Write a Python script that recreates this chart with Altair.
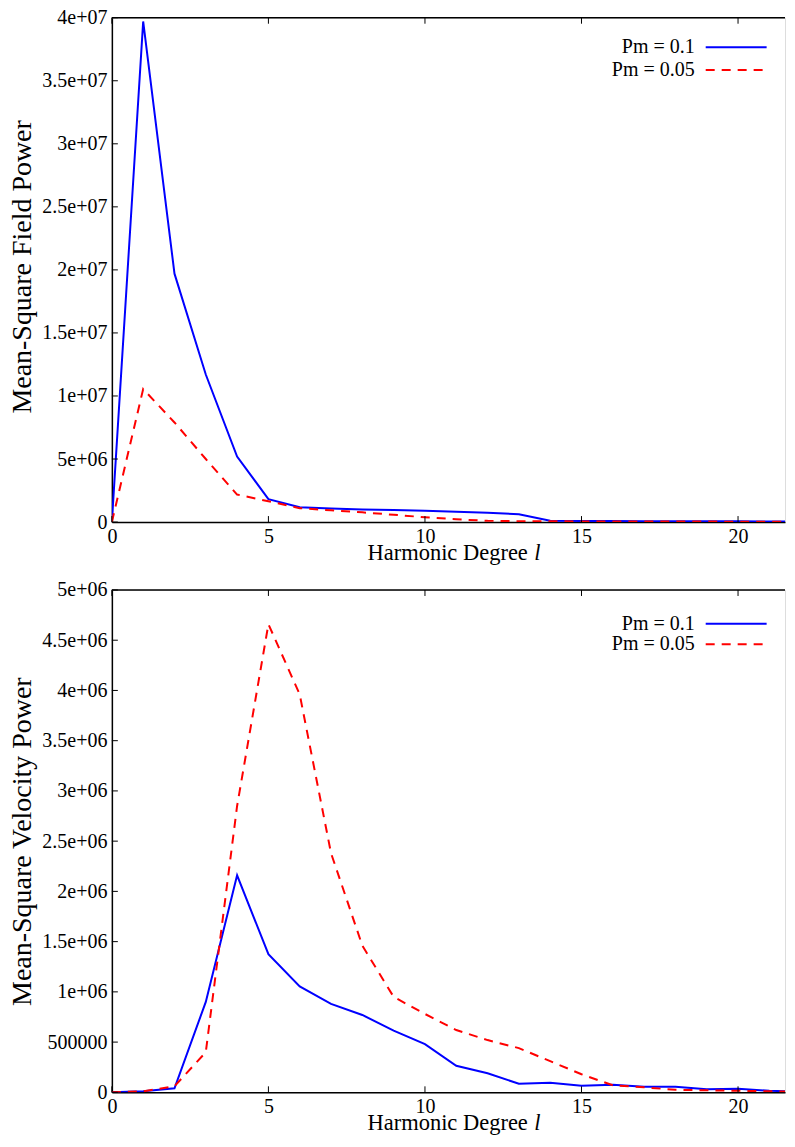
import altair as alt
import pandas as pd

# ---------------- data ----------------
degree = list(range(23))

field_pm_01 = [0, 3.97e7, 1.97e7, 1.17e7, 5.2e6, 1.82e6, 1.18e6, 1.08e6, 1.0e6,
               0.95e6, 0.89e6, 0.82e6, 0.74e6, 0.62e6, 0.11e6, 0.09e6, 0.08e6,
               0.07e6, 0.07e6, 0.06e6, 0.06e6, 0.05e6, 0.04e6]
field_pm_005 = [0, 1.055e7, 7.9e6, 5.0e6, 2.18e6, 1.65e6, 1.1e6, 0.93e6, 0.77e6,
                0.58e6, 0.38e6, 0.22e6, 0.1e6, 0.07e6, 0.06e6, 0.05e6, 0.05e6,
                0.04e6, 0.04e6, 0.04e6, 0.03e6, 0.03e6, 0.03e6]
vel_pm_01 = [0, 0.01e6, 0.04e6, 0.9e6, 2.16e6, 1.375e6, 1.055e6, 0.88e6, 0.77e6,
             0.615e6, 0.48e6, 0.265e6, 0.19e6, 0.085e6, 0.095e6, 0.065e6, 0.075e6,
             0.055e6, 0.055e6, 0.03e6, 0.035e6, 0.015e6, 0.008e6]
vel_pm_005 = [0, 0.01e6, 0.06e6, 0.4e6, 2.85e6, 4.66e6, 3.96e6, 2.38e6, 1.46e6,
              0.95e6, 0.78e6, 0.62e6, 0.52e6, 0.44e6, 0.31e6, 0.18e6, 0.07e6,
              0.05e6, 0.025e6, 0.02e6, 0.015e6, 0.01e6, 0.008e6]

series_labels = ["Pm = 0.1", "Pm = 0.05"]
series_colors = ["#0000ff", "#ff0000"]

x_ticks = [0, 5, 10, 15, 20]

field_ticks = [0, 5e6, 1e7, 1.5e7, 2e7, 2.5e7, 3e7, 3.5e7, 4e7]
field_tick_labels = ["0", "5e+06", "1e+07", "1.5e+07", "2e+07", "2.5e+07",
                     "3e+07", "3.5e+07", "4e+07"]
vel_ticks = [0, 5e5, 1e6, 1.5e6, 2e6, 2.5e6, 3e6, 3.5e6, 4e6, 4.5e6, 5e6]
vel_tick_labels = ["0", "500000", "1e+06", "1.5e+06", "2e+06", "2.5e+06",
                   "3e+06", "3.5e+06", "4e+06", "4.5e+06", "5e+06"]

x_title_main = "Harmonic Degree"
x_title_var = "l"
field_title = "Mean-Square Field Power"
vel_title = "Mean-Square Velocity Power"

# ---------------- layout / style ----------------
FONT = "Liberation Serif"
W = 674
XMAX = 21.5
TICK = 6


def label_expr(vals, labels):
    arr_l = ",".join("'" + s + "'" for s in labels)
    arr_v = ",".join(str(int(v)) for v in vals)
    return f"[{arr_l}][indexof([{arr_v}], datum.value)]"


def panel(s01, s005, ymax, yticks, ylabels, ytitle, H, leg_y, title_shift):
    xscale = alt.Scale(domain=[0, XMAX], nice=False, zero=False)
    yscale = alt.Scale(domain=[0, ymax], nice=False, zero=True)
    xaxis = alt.Axis(values=x_ticks, title=None, grid=False, ticks=False, tickSize=0,
                     labelPadding=20, labelBaseline="alphabetic", labelFont=FONT,
                     labelFontSize=20, labelColor="black", domainColor="black",
                     domainWidth=1.5, labelFlush=False, labelOverlap=False, format="d")
    yaxis = alt.Axis(values=yticks, labelExpr=label_expr(yticks, ylabels), title=ytitle,
                     grid=False, ticks=False, tickSize=0, labelPadding=5,
                     labelFont=FONT, labelFontSize=20, labelColor="black",
                     labelBaseline="middle", labelAlign="right",
                     domainColor="black", domainWidth=1.5, labelFlush=False,
                     labelOverlap=False, titleX=-81, titleY=H / 2 + title_shift,
                     titleAngle=270, titleBaseline="alphabetic", titleAlign="center",
                     titleFont=FONT, titleFontSize=28, titleFontWeight="normal",
                     titleColor="black")
    bx = alt.X("l:Q", scale=xscale, axis=xaxis)
    by = alt.Y("value:Q", scale=yscale, axis=yaxis)

    df01 = pd.DataFrame({"l": degree, "value": s01})
    df005 = pd.DataFrame({"l": degree, "value": s005})
    one = pd.DataFrame({"k": [0]})

    line01 = alt.Chart(df01).mark_line(color=series_colors[0], strokeWidth=2,
                                       clip=True).encode(x=bx, y=by)
    line005 = alt.Chart(df005).mark_line(color=series_colors[1], strokeWidth=2,
                                         strokeDash=[9, 7], clip=True).encode(x=bx, y=by)

    ytdf = pd.DataFrame({"value": yticks})
    xtdf = pd.DataFrame({"l": x_ticks})
    yt = alt.Chart(ytdf).mark_rule(color="black", strokeWidth=1).encode(
        y=by, x=alt.value(0), x2=alt.value(TICK))
    xtb = alt.Chart(xtdf).mark_rule(color="black", strokeWidth=1).encode(
        x=bx, y=alt.value(H), y2=alt.value(H - TICK))
    xtt = alt.Chart(xtdf).mark_rule(color="black", strokeWidth=1).encode(
        x=bx, y=alt.value(0), y2=alt.value(TICK))
    border = alt.Chart(one).mark_rule(color="black", strokeWidth=1.5).encode(
        x=alt.value(0), x2=alt.value(W), y=alt.value(0))

    layers = [line01, line005, yt, xtb, xtt, border]
    for i in range(2):
        layers.append(alt.Chart(one).mark_text(
            text=series_labels[i], font=FONT, fontSize=20, align="right",
            baseline="middle", color="black").encode(
            x=alt.value(583.6), y=alt.value(leg_y[i])))
        kw = dict(color=series_colors[i], strokeWidth=2)
        if i == 1:
            kw["strokeDash"] = [9, 7]
        layers.append(alt.Chart(one).mark_rule(**kw).encode(
            x=alt.value(594.6), x2=alt.value(655.6), y=alt.value(leg_y[i])))

    layers.append(alt.Chart(one).mark_text(
        text=x_title_main, font=FONT, fontSize=22.5, align="right",
        baseline="alphabetic", color="black").encode(
        x=alt.value(416.5), y=alt.value(H + 37.5)))
    layers.append(alt.Chart(one).mark_text(
        text=x_title_var, font=FONT, fontSize=22.5, fontStyle="italic", align="left",
        baseline="alphabetic", color="black").encode(
        x=alt.value(423), y=alt.value(H + 37.5)))

    return alt.layer(*layers).properties(width=W, height=H)


top = panel(field_pm_01, field_pm_005, 4e7, field_ticks, field_tick_labels,
            field_title, 505, [29.7, 52.3], -3.5)
bottom = panel(vel_pm_01, vel_pm_005, 5e6, vel_ticks, vel_tick_labels,
               vel_title, 503, [33.7, 54.3], 0)

chart = alt.vconcat(top, bottom, spacing=68, bounds="flush").properties(
    padding={"left": 0, "top": -2, "right": 0, "bottom": 0}
).configure_view(stroke=None).configure(background="white")

chart.save("out.html", embed_options={"renderer": "svg", "actions": False})
